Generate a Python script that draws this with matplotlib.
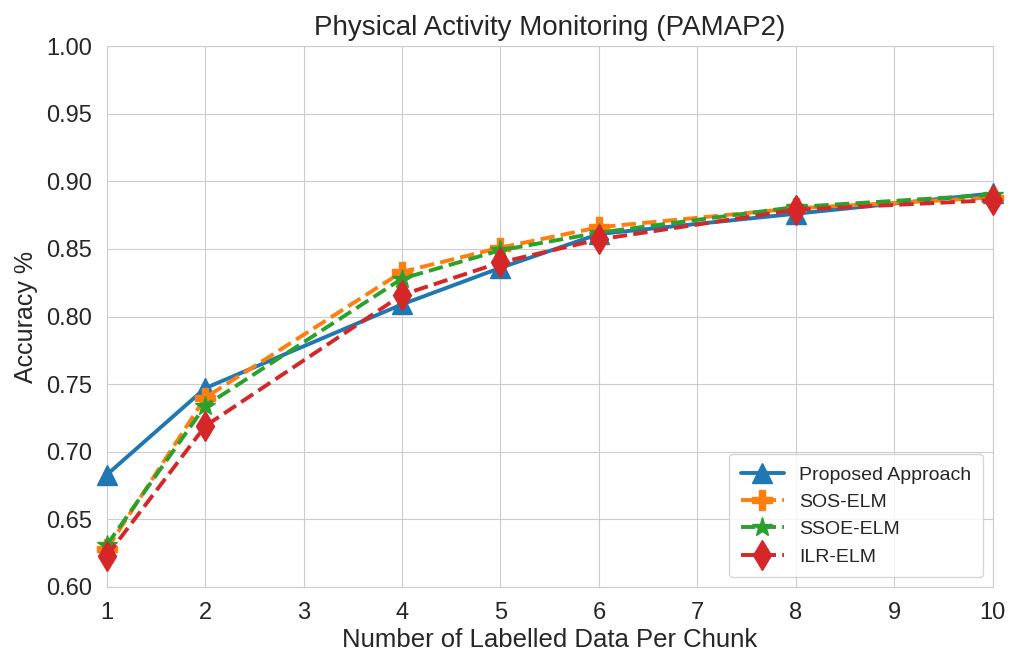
import matplotlib
matplotlib.use("Agg")
import matplotlib.pyplot as plt
import seaborn as sns

sns.set_style("whitegrid")
plt.rcParams['font.family'] = ['Liberation Sans', 'DejaVu Sans']

chunk_sizes = [1, 2, 4, 5, 6, 8, 10]
proposed = [0.683, 0.747, 0.809, 0.836, 0.861, 0.876, 0.891]
sos_elm = [0.628, 0.740, 0.833, 0.851, 0.866, 0.880, 0.888]
ssoe_elm = [0.631, 0.734, 0.828, 0.849, 0.862, 0.881, 0.890]
ilr_elm = [0.623, 0.719, 0.816, 0.840, 0.857, 0.879, 0.886]

series = [
    ("Proposed Approach", proposed, "#1f77b4", "^", "-"),
    ("SOS-ELM", sos_elm, "#ff7f0e", "P", "--"),
    ("SSOE-ELM", ssoe_elm, "#2ca02c", "*", "--"),
    ("ILR-ELM", ilr_elm, "#d62728", "d", "--"),
]

fig = plt.figure(figsize=(10.17, 6.52), dpi=100)
ax = fig.add_axes([0.105, 0.0997, 0.871, 0.8297])

for name, vals, color, marker, ls in series:
    ax.plot(chunk_sizes, vals, color=color, marker=marker, linestyle=ls,
            linewidth=2.8, markersize=15, label=name, clip_on=False, zorder=3)

ax.set_xlim(1, 10)
ax.set_ylim(0.60, 1.00)
ax.set_xticks(range(1, 11))
ax.set_yticks([0.60, 0.65, 0.70, 0.75, 0.80, 0.85, 0.90, 0.95, 1.00])
ax.set_yticklabels([f"{v:.2f}" for v in ax.get_yticks()])
ax.tick_params(labelsize=17, colors="#262626", pad=7)
ax.set_xlabel("Number of Labelled Data Per Chunk", fontsize=18.5, color="#262626", labelpad=3)
ax.set_ylabel("Accuracy %", fontsize=18, color="#262626", labelpad=6)
ax.set_title("Physical Activity Monitoring (PAMAP2)", fontsize=20, color="#262626", pad=8)

ax.legend(loc="lower right", fontsize=14, frameon=True, framealpha=0.8,
          borderaxespad=0.5, labelspacing=0.5, borderpad=0.6, handlelength=2.2)

fig.savefig("out.png", dpi=100)
